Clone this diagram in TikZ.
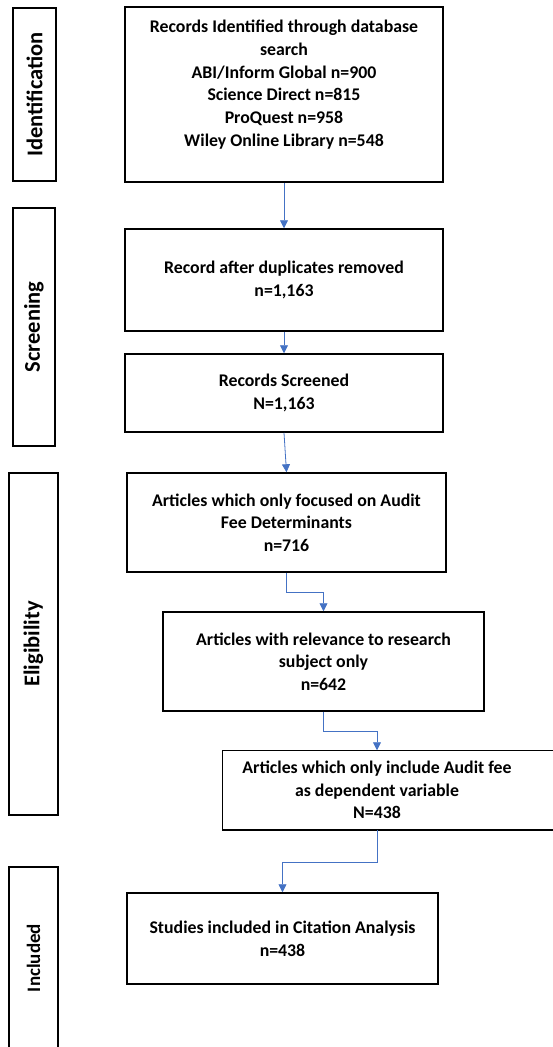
\documentclass[tikz,border=0pt]{standalone}
\usepackage{fontspec}
\setmainfont{Carlito}
\usetikzlibrary{arrows.meta,positioning,calc}
\definecolor{arrowblue}{HTML}{4472C4}
\begin{document}
\begin{tikzpicture}[x=1pt,y=-1pt,
  mainbox/.style={draw=black, line width=1.5pt, align=center, inner sep=0pt,
    font=\fontsize{17.8}{22.7}\selectfont\bfseries},
  sidebox/.style={draw=black, line width=1.5pt, inner sep=0pt},
  sidetext/.style={rotate=90, font=\fontsize{22.5}{26}\selectfont\bfseries},
  flow/.style={draw=arrowblue, line width=0.8pt, -{Triangle[width=8pt,length=8pt]}}
]
\useasboundingbox (0,0) rectangle (553,1047);

% side phase boxes
\node[sidebox, minimum width=43pt, minimum height=173pt] (sid) at (34.5,94.5) {};
\node[sidetext] (tid) at (sid.center) {Identification};
\node[sidebox, minimum width=42pt, minimum height=238pt] (sscr) at (34,327) {};
\node[sidetext] (tscr) at (sscr.center) {Screening};
\node[sidebox, minimum width=49pt, minimum height=342pt] (selig) at (33.5,644) {};
\node[sidetext] (telig) at (selig.center) {Eligibility};
\node[sidebox, minimum width=49pt, minimum height=184pt] (sincl) at (33.5,959) {};
\node[sidetext, font=\fontsize{19}{22}\selectfont\bfseries] (tincl) at (33.5,958) {Included};

% main boxes
\node[mainbox, minimum width=318pt, minimum height=175pt] (b1) at (284,94.5)
  {Records Identified through database\\search\\ABI/Inform Global n=900\\Science Direct n=815\\ProQuest n=958\\Wiley Online Library n=548\\\mbox{}};
\node[mainbox, minimum width=318pt, minimum height=102pt] (b2) at (284,280)
  {Record after duplicates removed\\n=1,163};
\node[mainbox, minimum width=318pt, minimum height=78pt] (b3) at (284,393)
  {Records Screened\\N=1,163};
\node[mainbox, minimum width=319pt, minimum height=99pt] (b4) at (286.5,522.5)
  {Articles which only focused on Audit\\Fee Determinants\\n=716};
\node[mainbox, minimum width=321pt, minimum height=99pt] (b5) at (323.5,661.5)
  {Articles with relevance to research\\subject only\\n=642};
\node[mainbox, draw=none, minimum width=308pt, minimum height=78pt] (b6) at (377,790)
  {Articles which only include Audit fee\\as dependent variable\\N=438};
\draw[line width=1.5pt] ([xshift=40pt]b6.north east) -- (b6.north west) -- (b6.south west) -- ([xshift=40pt]b6.south east);
\node[mainbox, minimum width=311pt, minimum height=91pt] (b7) at (282.5,938.5)
  {Studies included in Citation Analysis\\n=438};

% connectors
\draw[flow] (b1.south) -- (b2.north);
\draw[flow] (b2.south) -- (b3.north);
\draw[flow] (b3.south) -- (b4.north);
\draw[flow] (b4.south) -- ++(0,20) -| (b5.north);
\draw[flow] (b5.south) -- ++(0,20) -| (b6.north);
\draw[flow] (b6.south) -- ++(0,33) -| (b7.north);
\end{tikzpicture}
\end{document}
